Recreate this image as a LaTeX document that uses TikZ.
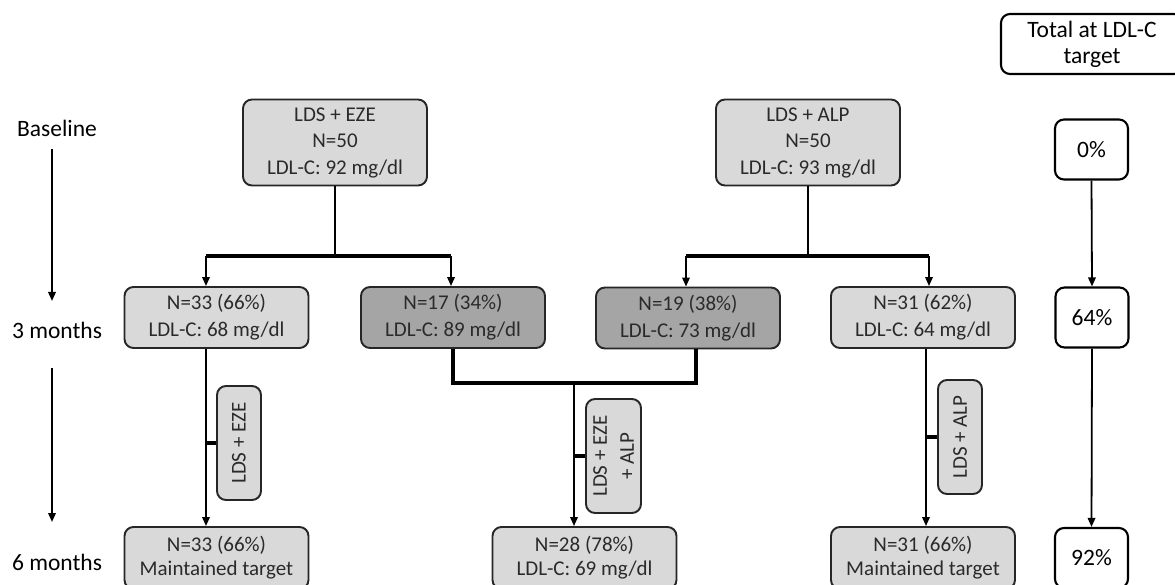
\documentclass[tikz,border=0pt]{standalone}
\usepackage{fontspec}
\setmainfont{Carlito}
\usetikzlibrary{arrows.meta}
\definecolor{lightbox}{HTML}{D9D9D9}
\definecolor{darkbox}{HTML}{A5A5A5}
\definecolor{boxtext}{HTML}{2A2A2A}
\definecolor{edge}{HTML}{262626}
\begin{document}
\begin{tikzpicture}[x=1pt,y=-1pt,
  box/.style={draw=edge, line width=1.9pt, rounded corners=9pt, fill=lightbox,
    text=boxtext, align=center, inner sep=0pt,
    font=\fontsize{21}{27}\selectfont},
  topbox/.style={box, minimum width=184, minimum height=86,
    font=\fontsize{21}{26.5}\selectfont},
  midbox/.style={box, minimum width=184, minimum height=61},
  lowbox/.style={box, minimum width=184, minimum height=62,
    font=\fontsize{21}{24}\selectfont},
  darkfill/.style={fill=darkbox},
  sidebox/.style={box, rotate=90},
  totbox/.style={draw=black, line width=2.1pt, rounded corners=9pt, fill=white,
    align=center, inner sep=0pt, font=\fontsize{23.5}{26}\selectfont},
  pctbox/.style={totbox, minimum width=73, minimum height=60},
  lbl/.style={font=\fontsize{23.5}{26}\selectfont, inner sep=0pt},
  stem/.style={line width=2.1pt, draw=black},
  bar/.style={line width=3.5pt, draw=black},
  arr/.style={line width=1.8pt, draw=black, -{Triangle[length=9pt,width=7.5pt]}}
]
\useasboundingbox (0,0) rectangle (1175,585);
\clip (0,0) rectangle (1175,585);

% labels
\node[lbl] (lb0) at (57,128) {Baseline};
\node[lbl] (lb3) at (57,330) {3 months};
\node[lbl] (lb6) at (57,562) {6 months};
\coordinate (t1s) at (52,149);
\coordinate (t1e) at (52,301);
\coordinate (t2s) at (52,368);
\coordinate (t2e) at (52,522);
\draw[arr] (t1s) -- (t1e);
\draw[arr] (t2s) -- (t2e);

% top boxes
\node[topbox] (eze) at (335,142.5) {LDS + EZE\\N=50\\LDL-C: 92 mg/dl};
\node[topbox] (alp) at (808,142.5) {LDS + ALP\\N=50\\LDL-C: 93 mg/dl};

% row 2
\node[midbox] (A) at (216.5,317.5) {N=33 (66\%)\\LDL-C: 68 mg/dl};
\node[midbox,darkfill] (B) at (453,317.5) {N=17 (34\%)\\LDL-C: 89 mg/dl};
\node[midbox,darkfill] (C) at (688,318) {N=19 (38\%)\\LDL-C: 73 mg/dl};
\node[midbox] (D) at (923,317.5) {N=31 (62\%)\\LDL-C: 64 mg/dl};

% row 3
\node[lowbox] (A3) at (216.5,558) {N=33 (66\%)\\Maintained target};
\node[lowbox] (M3) at (584.5,558) {N=28 (78\%)\\LDL-C: 69 mg/dl};
\node[lowbox] (D3) at (923,558) {N=31 (66\%)\\Maintained target};

% side treatment boxes
\node[sidebox, minimum width=114, minimum height=44] (rA) at (239,443) {LDS + EZE};
\node[sidebox, minimum width=114, minimum height=55] (rM) at (613.5,456) {LDS + EZE\\+ ALP};
\node[sidebox, minimum width=114, minimum height=44] (rD) at (960,437) {LDS + ALP};

% right column
\node[totbox, minimum width=182, minimum height=60] (tot) at (1092,44) {Total at LDL-C\\target};
\node[pctbox] (p0) at (1091.5,149.5) {0\%};
\node[pctbox] (p64) at (1092,317.5) {64\%};
\node[pctbox] (p92) at (1091.5,558) {92\%};

% connectors from top boxes
\coordinate (j1) at (335,256);
\coordinate (b1l) at (206,256);
\coordinate (b1r) at (451,256);
\draw[stem] (eze.south) -- (j1);
\draw[bar] (b1l) -- (b1r);
\draw[arr] (b1l) -- (b1l |- A.north);
\draw[arr] (b1r) -- (b1r |- B.north);

\coordinate (j2) at (808,256);
\coordinate (b2l) at (686,256);
\coordinate (b2r) at (929,256);
\draw[stem] (alp.south) -- (j2);
\draw[bar] (b2l) -- (b2r);
\draw[arr] (b2l) -- (b2l |- C.north);
\draw[arr] (b2r) -- (b2r |- D.north);

% A -> A3
\coordinate (a1) at (206,400);
\draw[arr] (a1 |- A.south) -- (a1 |- A3.north);
\draw[bar] (a1 |- rA.north) -- (rA.north);

% B, C -> M3
\coordinate (m) at (574,383);
\coordinate (c1) at (696,383);
\coordinate (bb) at (453,383);
\draw[bar] (bb |- B.south) -- (bb) -- (c1) -- (c1 |- C.south);
\draw[arr] (m) -- (m |- M3.north);
\draw[bar] (m |- rM.north) -- (rM.north);

% D -> D3
\coordinate (d1) at (926,400);
\draw[arr] (d1 |- D.south) -- (d1 |- D3.north);
\draw[bar] (d1 |- rD.north) -- (rD.north);

% right column arrows
\draw[arr] (p0.south) -- (p64.north);
\draw[arr] (p64.south) -- (p92.north);
\end{tikzpicture}
\end{document}
